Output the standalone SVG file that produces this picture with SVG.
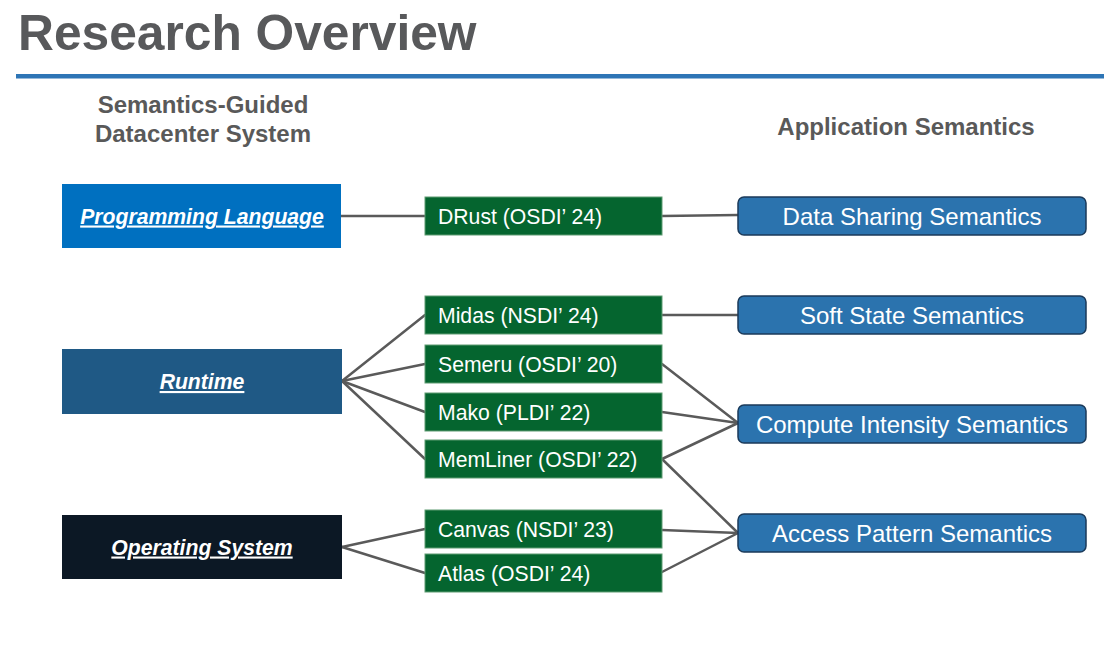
<svg xmlns="http://www.w3.org/2000/svg" width="1114" height="651" viewBox="0 0 1114 651">
<style>
.title{font-family:"Liberation Sans",Arial,sans-serif;font-weight:bold;font-size:49.7px;fill:#58595B}
.head{font-family:"Liberation Sans",Arial,sans-serif;font-weight:bold;font-size:24px;fill:#595959;text-anchor:middle}
.lay{font-family:"Liberation Sans",Arial,sans-serif;font-weight:bold;font-style:italic;font-size:21.2px;fill:#FFFFFF;text-anchor:middle;text-decoration:underline}
.pub rect{fill:#05652F;stroke:#5E9C72;stroke-width:1}
.pub text{font-family:"Liberation Sans",Arial,sans-serif;font-size:21.2px;fill:#FFFFFF}
.sem rect{fill:#2B73AE;stroke:#1B3A5A;stroke-width:1.5}
.sem text{font-family:"Liberation Sans",Arial,sans-serif;font-size:24px;fill:#FFFFFF;text-anchor:middle}
.conn line{stroke:#5A5A5A;stroke-width:2.5;stroke-linecap:round}
</style>
<rect width="1114" height="651" fill="#FFFFFF"/>
<text class="title" x="18" y="50">Research Overview</text>
<rect x="16" y="74" width="1088" height="4.5" fill="#2E75B6"/>
<text class="head" x="203" y="113">Semantics-Guided</text>
<text class="head" x="203" y="142">Datacenter System</text>
<text class="head" x="906" y="135">Application Semantics</text>

<g id="connectors" class="conn">
<line x1="341" y1="216" x2="425" y2="216"/>
<line x1="662" y1="216" x2="738" y2="215"/>
<line x1="342" y1="381" x2="425" y2="315"/>
<line x1="342" y1="381" x2="425" y2="364"/>
<line x1="342" y1="381" x2="425" y2="412"/>
<line x1="342" y1="381" x2="425" y2="459"/>
<line x1="662" y1="315" x2="738" y2="315"/>
<line x1="662" y1="364" x2="738" y2="423"/>
<line x1="662" y1="412" x2="738" y2="423"/>
<line x1="662" y1="459" x2="738" y2="423"/>
<line x1="662" y1="459" x2="738" y2="533"/>
<line x1="662" y1="530" x2="738" y2="533"/>
<line x1="662" y1="572" x2="738" y2="533"/>
<line x1="342" y1="547" x2="425" y2="529"/>
<line x1="342" y1="547" x2="425" y2="573"/>
</g>

<g id="programming-language">
<rect x="62" y="184" width="279" height="64" fill="#0070C0"/>
<text class="lay" x="202" y="223.5">Programming Language</text>
</g>
<g id="runtime">
<rect x="62" y="349" width="280" height="65" fill="#1F5985"/>
<text class="lay" x="202" y="389">Runtime</text>
</g>
<g id="operating-system">
<rect x="62" y="515" width="280" height="64" fill="#0C1825"/>
<text class="lay" x="202" y="554.5">Operating System</text>
</g>

<g id="drust" class="pub"><rect x="425" y="197" width="237" height="38"/><text x="438" y="224">DRust (OSDI’ 24)</text></g>
<g id="midas" class="pub"><rect x="425" y="296" width="237" height="38"/><text x="438" y="323">Midas (NSDI’ 24)</text></g>
<g id="semeru" class="pub"><rect x="425" y="345" width="237" height="38"/><text x="438" y="372">Semeru (OSDI’ 20)</text></g>
<g id="mako" class="pub"><rect x="425" y="393" width="237" height="38"/><text x="438" y="420">Mako (PLDI’ 22)</text></g>
<g id="memliner" class="pub"><rect x="425" y="440" width="237" height="38"/><text x="438" y="467">MemLiner (OSDI’ 22)</text></g>
<g id="canvas" class="pub"><rect x="425" y="510" width="237" height="38"/><text x="438" y="537">Canvas (NSDI’ 23)</text></g>
<g id="atlas" class="pub"><rect x="425" y="554" width="237" height="38"/><text x="438" y="581">Atlas (OSDI’ 24)</text></g>

<g id="data-sharing" class="sem"><rect x="738" y="197" width="348" height="38" rx="6"/><text x="912" y="224.5">Data Sharing Semantics</text></g>
<g id="soft-state" class="sem"><rect x="738" y="296" width="348" height="38" rx="6"/><text x="912" y="323.5">Soft State Semantics</text></g>
<g id="compute-intensity" class="sem"><rect x="738" y="405" width="348" height="38" rx="6"/><text x="912" y="432.5">Compute Intensity Semantics</text></g>
<g id="access-pattern" class="sem"><rect x="738" y="514" width="348" height="38" rx="6"/><text x="912" y="541.5">Access Pattern Semantics</text></g>
</svg>
